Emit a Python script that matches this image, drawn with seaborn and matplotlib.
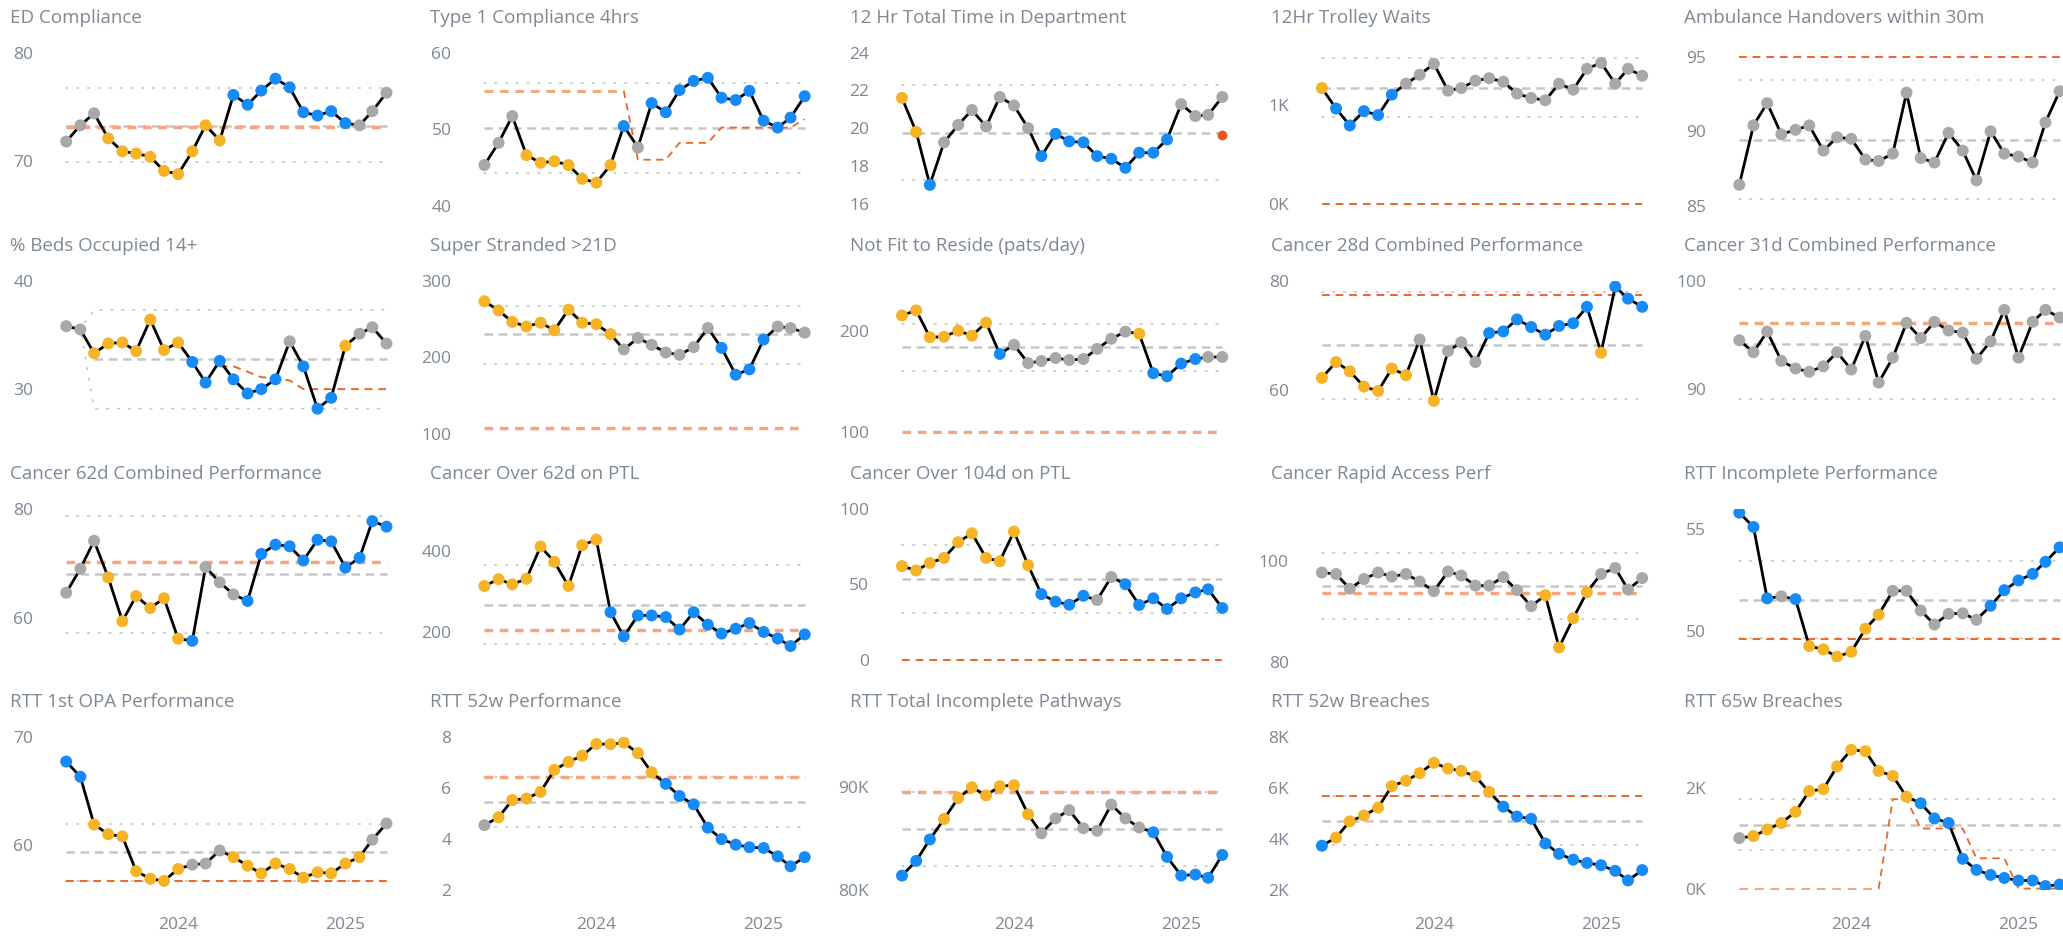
import numpy as np
import pandas as pd
import matplotlib
matplotlib.use("Agg")
import matplotlib.pyplot as plt
import matplotlib.dates as mdates
from matplotlib.ticker import FuncFormatter
import seaborn as sns

# ---------------------------------------------------------------- data
MONTHS = pd.date_range("2023-05-01", periods=24, freq="MS")
YEAR_TICKS = pd.to_datetime(["2024-01-01", "2025-01-01"])
YEAR_LABELS = ["2024", "2025"]
NAN = float("nan")

# status per month: G = common cause, Y = concern, B = improvement
ED_VALUES = [71.8, 73.3, 74.4, 72.1, 70.9, 70.7, 70.4, 69.1, 68.8, 70.9, 73.3, 71.9,
             76.1, 75.2, 76.5, 77.6, 76.8, 74.5, 74.2, 74.6, 73.5, 73.3, 74.6, 76.3]
ED_STATUS = "GGGYYYYYYYYYBBBBBBBBBGGG"
ED_LIMITS = dict(mean=73.25, ucl=76.7, lcl=69.9, target=73.1)

TYPE1_VALUES = [45.3, 48.2, 51.7, 46.6, 45.6, 45.8, 45.3, 43.5, 43.0, 45.3, 50.4, 47.6,
                53.4, 52.2, 55.1, 56.3, 56.7, 54.1, 53.8, 55.0, 51.1, 50.2, 51.5, 54.3]
TYPE1_STATUS = "GGGYYYYYYYBGBBBBBBBBBBBB"
TYPE1_TARGET = [55, 55, 55, 55, 55, 55, 55, 55, 55, 55, 55, 46,
                46, 46, 48.2, 48.2, 48.2, 50.2, 50.2, 50.2, 50.2, 50.2, 50.2, 51.3]
TYPE1_LIMITS = dict(mean=50.1, ucl=56.0, lcl=44.3, target=TYPE1_TARGET)

TOTAL_TIME_VALUES = [21.6, 19.8, 17.0, 19.25, 20.17, 20.96, 20.09, 21.65, 21.2, 20.0, 18.52, 19.7,
                     19.3, 19.25, 18.52, 18.38, 17.9, 18.7, 18.7, 19.4, 21.27, 20.64, 20.7, 21.65]
TOTAL_TIME_STATUS = "YYBGGGGGGGBBBBBBBBBBGGGG"
TOTAL_TIME_TARGET = [NAN] * 23 + [19.65]
TOTAL_TIME_LIMITS = dict(mean=19.74, ucl=22.26, lcl=17.25, target=TOTAL_TIME_TARGET)

TROLLEY_VALUES = [1166, 960, 790, 934, 894, 1100, 1210, 1300, 1410, 1140, 1166, 1240,
                  1265, 1230, 1110, 1066, 1043, 1210, 1150, 1360, 1420, 1210, 1360, 1290]
TROLLEY_STATUS = "YBBBBBGGGGGGGGGGGGGGGGGG"
TROLLEY_LIMITS = dict(mean=1170, ucl=1470, lcl=870, target=0)

AMBULANCE_VALUES = [86.4, 90.4, 91.9, 89.8, 90.1, 90.4, 88.7, 89.6, 89.5, 88.1, 88.0, 88.5,
                    92.6, 88.2, 87.9, 89.9, 88.7, 86.7, 90.0, 88.5, 88.3, 87.9, 90.6, 92.7]
AMBULANCE_STATUS = "G" * 24
AMBULANCE_LIMITS = dict(mean=89.4, ucl=93.45, lcl=85.43, target=95)

BEDS_VALUES = [35.8, 35.5, 33.3, 34.2, 34.3, 33.5, 36.4, 33.6, 34.3, 32.5, 30.6, 32.6,
               30.9, 29.6, 30.0, 30.9, 34.4, 32.1, 28.2, 29.2, 34.0, 35.1, 35.7, 34.2]
BEDS_STATUS = "GGYYYYYYYBBBBBBBGBBBYGGG"
BEDS_MEAN = [NAN, NAN] + [32.73] * 22
BEDS_UCL = [35.6, 35.6] + [37.3] * 22
BEDS_LCL = [35.6, 35.6] + [28.2] * 22
BEDS_TARGET = [NAN] * 11 + [32.1, 32.1, 31.6, 31.1, 31.0, 30.8, 30.0, 30.0, 30.0, 30.0, 30.0, 30.0, 30.0]
BEDS_LIMITS = dict(mean=BEDS_MEAN, ucl=BEDS_UCL, lcl=BEDS_LCL, target=BEDS_TARGET)

SUPER_STRANDED_VALUES = [273, 261, 246, 240, 245, 235, 262, 245, 243, 230, 210, 225,
                         216, 206, 203, 213, 238, 212, 177, 184, 223, 240, 238, 232]
SUPER_STRANDED_STATUS = "YYYYYYYYYYGGGGGGGBBBBGGG"
SUPER_STRANDED_LIMITS = dict(mean=229.6, ucl=266.5, lcl=191.3, target=107)

NFTR_VALUES = [215, 220, 193.5, 194, 200, 195, 208, 177, 186, 168, 170, 173,
               171, 172, 182, 192, 199, 197, 158, 155, 167.5, 172, 174, 174]
NFTR_STATUS = "YYYYYYYBGGGGGGGGGYBBBBGG"
NFTR_LIMITS = dict(mean=183.8, ucl=207, lcl=160, target=100)

CANCER28_VALUES = [62.2, 65.1, 63.4, 60.6, 59.8, 63.9, 62.7, 69.2, 58.0, 67.1, 68.7, 65.1,
                   70.4, 70.7, 72.9, 71.5, 70.1, 71.7, 72.2, 75.2, 66.8, 78.9, 76.7, 75.2]
CANCER28_STATUS = "YYYYYYYGYGGGBBBBBBBBYBBB"
CANCER28_LIMITS = dict(mean=68.25, ucl=78.0, lcl=58.4, target=77.4)

CANCER31_VALUES = [94.5, 93.4, 95.3, 92.6, 91.9, 91.6, 92.1, 93.4, 91.8, 94.9, 90.6, 92.9,
                   96.1, 94.7, 96.2, 95.4, 95.2, 92.8, 94.4, 97.3, 92.9, 96.2, 97.3, 96.6]
CANCER31_STATUS = "G" * 24
CANCER31_LIMITS = dict(mean=94.2, ucl=99.2, lcl=89.1, target=96.1)

CANCER62_VALUES = [64.6, 69.0, 74.1, 67.4, 59.4, 64.0, 61.8, 63.6, 56.2, 55.8, 69.3, 66.5,
                   64.3, 63.1, 71.7, 73.4, 73.1, 70.5, 74.3, 74.0, 69.2, 71.0, 77.7, 76.7]
CANCER62_STATUS = "GGGYYYYYYBGGGBBBBBBBBBBB"
CANCER62_LIMITS = dict(mean=67.95, ucl=78.6, lcl=57.3, target=70.2)

OVER62_VALUES = [314, 331, 318, 332, 412, 374, 314, 415, 429, 249, 189, 241,
                 241, 237, 206, 249, 218, 196, 208, 222, 200, 184, 165, 194]
OVER62_STATUS = "YYYYYYYYYBBBBBBBBBBBBBBB"
OVER62_LIMITS = dict(mean=268, ucl=366, lcl=170, target=204)

OVER104_VALUES = [62.0, 59.1, 64.1, 67.4, 77.8, 83.7, 67.4, 65.2, 84.8, 62.6, 43.5, 38.5,
                  36.5, 42.4, 39.6, 54.8, 50.0, 36.3, 40.7, 33.7, 40.7, 44.6, 46.7, 34.3]
OVER104_STATUS = "YYYYYYYYYYBBBBGGBBBBBBBB"
OVER104_LIMITS = dict(mean=53.3, ucl=75.7, lcl=30.9, target=0)

RAPID_VALUES = [97.7, 97.4, 94.5, 96.4, 97.7, 96.9, 97.4, 95.9, 94.0, 97.9, 97.1, 95.1,
                95.1, 96.8, 94.2, 91.0, 93.2, 82.8, 88.6, 93.8, 97.4, 98.6, 94.3, 96.6]
RAPID_STATUS = "GGGGGGGGGGGGGGGGYYYYGGGG"
RAPID_LIMITS = dict(mean=95.0, ucl=101.5, lcl=88.5, target=93.6)

RTT_INCOMPLETE_VALUES = [55.8, 55.1, 51.6, 51.7, 51.56, 49.26, 49.1, 48.74, 48.98, 50.11, 50.8, 51.97,
                         51.97, 51.0, 50.32, 50.84, 50.87, 50.55, 51.24, 52.0, 52.48, 52.8, 53.39, 54.1]
RTT_INCOMPLETE_STATUS = "BBBGBYYYYYYGGGGGGGBBBBBB"
RTT_INCOMPLETE_LIMITS = dict(mean=51.53, ucl=53.42, lcl=49.64, target=49.6)

OPA_VALUES = [67.7, 66.3, 61.9, 61.0, 60.8, 57.6, 56.9, 56.7, 57.8, 58.2, 58.3, 59.5,
              58.9, 58.1, 57.4, 58.3, 57.8, 57.0, 57.5, 57.4, 58.3, 58.9, 60.5, 62.0]
OPA_STATUS = "BBYYYYYYYGGGYYYYYYYYYYGG"
OPA_LIMITS = dict(mean=59.33, ucl=61.97, lcl=56.69, target=56.7)

RTT52_PERF_VALUES = [4.54, 4.85, 5.53, 5.59, 5.85, 6.72, 7.03, 7.28, 7.74, 7.73, 7.79, 7.38,
                     6.62, 6.17, 5.69, 5.36, 4.44, 3.99, 3.77, 3.67, 3.64, 3.31, 2.92, 3.28]
RTT52_PERF_STATUS = "GYYYYYYYYYYYYBBBBBBBBBBB"
RTT52_PERF_LIMITS = dict(mean=5.46, ucl=6.45, lcl=4.47, target=6.42)

PATHWAYS_VALUES = [81370, 82800, 84900, 86900, 88950, 90000, 89200, 90100, 90200, 87350, 85500, 86960,
                   87760, 86000, 85750, 88300, 86960, 86070, 85600, 83200, 81370, 81470, 81150, 83390]
PATHWAYS_STATUS = "BBBYYYYYYYGGGGGGGGBBBBBB"
PATHWAYS_LIMITS = dict(mean=85900, ucl=89500, lcl=82330, target=89520)

BREACH52_VALUES = [3730, 4050, 4690, 4920, 5230, 6080, 6290, 6590, 7000, 6770, 6680, 6460,
                   5850, 5270, 4880, 4790, 3820, 3410, 3180, 3050, 2960, 2740, 2360, 2770]
BREACH52_STATUS = "BYYYYYYYYYYYYBBBBBBBBBBB"
BREACH52_LIMITS = dict(mean=4720, ucl=5670, lcl=3770, target=5680)

BREACH65_VALUES = [1000, 1040, 1170, 1300, 1520, 1930, 1970, 2420, 2750, 2720, 2330, 2230,
                   1820, 1690, 1390, 1300, 590, 370, 270, 210, 160, 160, 50, 80]
BREACH65_STATUS = "GYYYYYYYYYYYYBBBBBBBBBBB"
BREACH65_TARGET = [0] * 11 + [1770, 1770, 1190, 1190, 1190, 1190, 600, 600, 600, 0, 0, 0, 0]
BREACH65_LIMITS = dict(mean=1260, ucl=1770, lcl=760, target=BREACH65_TARGET)

TITLES = [
    "ED Compliance", "Type 1 Compliance 4hrs", "12 Hr Total Time in Department",
    "12Hr Trolley Waits", "Ambulance Handovers within 30m",
    "% Beds Occupied 14+", "Super Stranded >21D", "Not Fit to Reside (pats/day)",
    "Cancer 28d Combined Performance", "Cancer 31d Combined Performance",
    "Cancer 62d Combined Performance", "Cancer Over 62d on PTL", "Cancer Over 104d on PTL",
    "Cancer Rapid Access Perf", "RTT Incomplete Performance",
    "RTT 1st OPA Performance", "RTT 52w Performance", "RTT Total Incomplete Pathways",
    "RTT 52w Breaches", "RTT 65w Breaches",
]
SERIES = [
    (ED_VALUES, ED_STATUS, ED_LIMITS), (TYPE1_VALUES, TYPE1_STATUS, TYPE1_LIMITS),
    (TOTAL_TIME_VALUES, TOTAL_TIME_STATUS, TOTAL_TIME_LIMITS),
    (TROLLEY_VALUES, TROLLEY_STATUS, TROLLEY_LIMITS), (AMBULANCE_VALUES, AMBULANCE_STATUS, AMBULANCE_LIMITS),
    (BEDS_VALUES, BEDS_STATUS, BEDS_LIMITS), (SUPER_STRANDED_VALUES, SUPER_STRANDED_STATUS, SUPER_STRANDED_LIMITS),
    (NFTR_VALUES, NFTR_STATUS, NFTR_LIMITS), (CANCER28_VALUES, CANCER28_STATUS, CANCER28_LIMITS),
    (CANCER31_VALUES, CANCER31_STATUS, CANCER31_LIMITS),
    (CANCER62_VALUES, CANCER62_STATUS, CANCER62_LIMITS), (OVER62_VALUES, OVER62_STATUS, OVER62_LIMITS),
    (OVER104_VALUES, OVER104_STATUS, OVER104_LIMITS), (RAPID_VALUES, RAPID_STATUS, RAPID_LIMITS),
    (RTT_INCOMPLETE_VALUES, RTT_INCOMPLETE_STATUS, RTT_INCOMPLETE_LIMITS),
    (OPA_VALUES, OPA_STATUS, OPA_LIMITS), (RTT52_PERF_VALUES, RTT52_PERF_STATUS, RTT52_PERF_LIMITS),
    (PATHWAYS_VALUES, PATHWAYS_STATUS, PATHWAYS_LIMITS), (BREACH52_VALUES, BREACH52_STATUS, BREACH52_LIMITS),
    (BREACH65_VALUES, BREACH65_STATUS, BREACH65_LIMITS),
]

# ---------------------------------------------------------------- axis settings
# (y range, y ticks, thousands formatting, target style)
AXIS = [
    ((65.9, 80), [70, 80], False, "soft"),
    ((40, 60), [40, 50, 60], False, "split"),
    ((15.9, 24), [16, 18, 20, 22, 24], False, "dot"),
    ((-17, 1523), [0, 1000], True, "sharp"),
    ((85.0, 95.3), [85, 90, 95], False, "sharp"),
    ((25.9, 40), [30, 40], False, "sharp"),
    ((100, 300), [100, 200, 300], False, "soft"),
    ((98.4, 249.4), [100, 200], False, "soft"),
    ((52, 80), [60, 80], False, "sharp"),
    ((85.9, 100), [90, 100], False, "soft"),
    ((52, 80), [60, 80], False, "soft"),
    ((126.5, 506), [200, 400], False, "soft"),
    ((-1.1, 100), [0, 50, 100], False, "sharp"),
    ((80.2, 110.4), [80, 100], False, "soft"),
    ((48.5, 56), [50, 55], False, "sharp"),
    ((55.9, 70), [60, 70], False, "sharp"),
    ((2.0, 8.03), [2, 4, 6, 8], False, "soft"),
    ((80100, 94950), [80000, 90000], True, "soft"),
    ((2000, 8030), [2000, 4000, 6000, 8000], True, "sharp"),
    ((-20, 3010), [0, 2000], True, "split"),
]

STATUS_COLOURS = {"G": "#A8A8A8", "Y": "#F5B325", "B": "#168BF8"}
TEXT_COLOUR = "#7D8894"
SOFT_TARGET = "#F6A57D"
SHARP_TARGET = "#EE6529"

sns.set_theme(style="white")
plt.rcParams["font.family"] = ["Open Sans", "DejaVu Sans"]

W, H = 2063, 936
fig = plt.figure(figsize=(W / 100, H / 100), dpi=100)
fig.patch.set_facecolor("white")

COL_FIRST = [66.2, 484.4, 902.0, 1321.9, 1739.3]
COL_TITLE = [10.5, 430, 850, 1271, 1684]
ROW_TOP = [52.6, 280.6, 508.6, 736.6]
AX_H = 153.0
SPAN = 320.3
PAD_DAYS = 30
total_days = (MONTHS[-1] - MONTHS[0]).days
px_per_day = SPAN / total_days
x0 = mdates.date2num(MONTHS[0] - pd.Timedelta(days=PAD_DAYS))
x1 = mdates.date2num(MONTHS[-1] + pd.Timedelta(days=PAD_DAYS))
month_num = mdates.date2num(MONTHS)


def kfmt(v, _):
    return f"{v / 1000:.0f}K"


def ifmt(v, _):
    return f"{v:g}"


def as_series(v):
    return np.broadcast_to(np.asarray(v, dtype=float), (24,)).copy()


for i, (title, (values, status, lim), (ylim, yticks, kilo, tstyle)) in enumerate(zip(TITLES, SERIES, AXIS)):
    r, c = divmod(i, 5)
    left_px = COL_FIRST[c] - PAD_DAYS * px_per_day
    width_px = (total_days + 2 * PAD_DAYS) * px_per_day
    ax = fig.add_axes([left_px / W, 1 - (ROW_TOP[r] + AX_H) / H, width_px / W, AX_H / H])
    ax.set_facecolor("none")

    # control limits and mean
    for key in ("ucl", "lcl"):
        ax.plot(month_num, as_series(lim[key]), color="#C6C6C6", lw=1.2,
                linestyle=(0, (1, 5.5)), dash_capstyle="round", zorder=1)
    ax.plot(month_num, as_series(lim["mean"]), color="#C6C6C6", lw=1.8,
            linestyle=(0, (3.4, 2.3)), zorder=1)

    # target
    tgt = as_series(lim["target"])
    if tstyle == "dot":
        ax.scatter(month_num, tgt, s=50, color="#F0561A", linewidths=0, zorder=4)
    elif tstyle == "soft":
        ax.plot(month_num, tgt, color=SOFT_TARGET, lw=2.5, linestyle=(0, (2.5, 1.9)), zorder=1.5)
    elif tstyle == "sharp":
        ax.plot(month_num, tgt, color=SHARP_TARGET, lw=1.4, linestyle=(0, (4, 3)), zorder=1.5)
    else:
        ax.plot(month_num[:11], tgt[:11], color=SOFT_TARGET, lw=2.1, linestyle=(0, (3, 2.3)), zorder=1.5)
        ax.plot(month_num[10:], tgt[10:], color=SHARP_TARGET, lw=1.3, linestyle=(0, (4, 3)), zorder=1.5)

    df = pd.DataFrame({"month": month_num, "value": values, "status": list(status)})
    sns.lineplot(data=df, x="month", y="value", color="black", linewidth=2.0,
                 ax=ax, zorder=2, sort=False)
    sns.scatterplot(data=df, x="month", y="value", hue="status", palette=STATUS_COLOURS,
                    s=74, linewidth=0, legend=False, ax=ax, zorder=3)

    ax.set_xlim(x0, x1)
    ax.set_ylim(*ylim)
    ax.set_yticks(yticks)
    ax.yaxis.set_major_formatter(FuncFormatter(kfmt if kilo else ifmt))
    ax.tick_params(axis="y", length=0, pad=13.9, labelsize=12.5, labelcolor=TEXT_COLOUR)
    if r == 3:
        ax.set_xticks(mdates.date2num(YEAR_TICKS))
        ax.set_xticklabels(YEAR_LABELS)
        ax.tick_params(axis="x", length=0, pad=19.5, labelsize=12.5, labelcolor=TEXT_COLOUR)
    else:
        ax.set_xticks([])
    ax.set_xlabel("")
    ax.set_ylabel("")
    ax.grid(False)
    for s in ax.spines.values():
        s.set_visible(False)

    fig.text(COL_TITLE[c] / W, 1 - (18.4 + 228 * r) / H, title, ha="left", va="center",
             fontsize=13.5, color=TEXT_COLOUR)

fig.savefig("out.png", dpi=100, facecolor="white")
